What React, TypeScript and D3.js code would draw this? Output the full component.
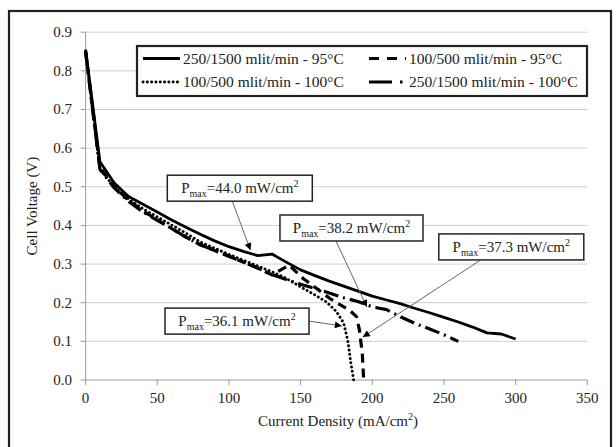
import React from "react";
import * as d3 from "d3";

const solidX = [0, 10, 20, 30, 40, 50, 60, 70, 80, 90, 100, 110, 120, 130, 140, 150, 160, 170, 180, 190, 200, 210, 220, 230, 240, 250, 260, 270, 280, 290, 300];
const solidV = [0.855, 0.565, 0.51, 0.475, 0.455, 0.435, 0.414, 0.395, 0.377, 0.36, 0.345, 0.333, 0.322, 0.326, 0.305, 0.285, 0.27, 0.256, 0.243, 0.23, 0.217, 0.207, 0.197, 0.185, 0.174, 0.162, 0.15, 0.137, 0.122, 0.119, 0.106];

const dashX = [0, 10, 20, 30, 40, 50, 60, 70, 80, 90, 100, 110, 120, 130, 142, 152, 160, 170, 176, 184, 189, 191, 193, 194];
const dashV = [0.85, 0.55, 0.5, 0.465, 0.437, 0.415, 0.392, 0.37, 0.35, 0.335, 0.32, 0.305, 0.29, 0.272, 0.297, 0.262, 0.24, 0.212, 0.198, 0.181, 0.164, 0.13, 0.07, 0.0];

const dotX = [0, 10, 20, 30, 40, 50, 60, 70, 80, 90, 100, 110, 120, 130, 140, 150, 160, 168, 175, 180, 183, 185, 187];
const dotV = [0.85, 0.545, 0.5, 0.468, 0.443, 0.422, 0.401, 0.38, 0.357, 0.341, 0.325, 0.31, 0.295, 0.28, 0.263, 0.241, 0.22, 0.202, 0.177, 0.148, 0.1, 0.045, 0.0];

const dashDotX = [0, 10, 20, 30, 40, 50, 60, 70, 80, 90, 100, 110, 120, 130, 140, 150, 160, 170, 180, 190, 200, 210, 220, 230, 240, 250, 260];
const dashDotV = [0.85, 0.545, 0.497, 0.462, 0.435, 0.413, 0.392, 0.37, 0.35, 0.335, 0.32, 0.305, 0.29, 0.273, 0.26, 0.248, 0.237, 0.225, 0.213, 0.203, 0.189, 0.182, 0.163, 0.146, 0.132, 0.117, 0.1];

const seriesNames = ["250/1500 mlit/min - 95°C", "100/500 mlit/min - 95°C", "100/500 mlit/min - 100°C", "250/1500 mlit/min - 100°C"];

const xTicks = [0, 50, 100, 150, 200, 250, 300, 350];
const yTicks = [0, 0.1, 0.2, 0.3, 0.4, 0.5, 0.6, 0.7, 0.8, 0.9];

const pmaxLabels = ["44.0", "38.2", "37.3", "36.1"];
const pmaxBoxX = [57, 135.6, 246.4, 55.4];
const pmaxBoxV = [0.53, 0.427, 0.378, 0.186];
const pmaxTipX = [115, 196.2, 193.4, 178.8];
const pmaxTipV = [0.336, 0.189, 0.111, 0.14];

const FONT = "'Liberation Serif', 'Times New Roman', serif";

export default function App() {
  const W = 616, H = 447;
  const x = d3.scaleLinear().domain([0, 350]).range([85.6, 587.3]);
  const y = d3.scaleLinear().domain([0, 0.9]).range([380, 32.2]);
  const line = d3.line<[number, number]>().x((d) => x(d[0])).y((d) => y(d[1]));
  const zip = (a: number[], b: number[]) => a.map((v, i) => [v, b[i]] as [number, number]);

  const series = [
    { d: zip(solidX, solidV), dash: undefined as string | undefined, w: 2.8, cap: "butt" },
    { d: zip(dashX, dashV), dash: "9,6", w: 3.2, cap: "butt" },
    { d: zip(dotX, dotV), dash: "0.1,4.2", w: 2.9, cap: "round" },
    { d: zip(dashDotX, dashDotV), dash: "15,5,2,5", w: 3.2, cap: "butt" },
  ];

  const boxW = [145, 143, 145, 144];
  const boxH = 26;
  const startSide = ["bottom", "bottom", "bottom", "right"];
  const startOff = [65, 56, 42, 0];

  return (
    <svg width={W} height={H} style={{ position: "absolute", left: 0, top: 0, background: "#fff" }} fontFamily={FONT}>
      <defs>
        <marker id="ah" viewBox="0 0 10 10" refX="10" refY="5" markerWidth="8" markerHeight="7" markerUnits="userSpaceOnUse" orient="auto">
          <path d="M0,0 L10,5 L0,10 z" fill="#000" />
        </marker>
      </defs>
      <rect x={0} y={0} width={W} height={H} fill="#fff" />
      <rect x={9} y={11} width={602} height={460} fill="none" stroke="#222" strokeWidth={2.2} />

      {yTicks.filter((t) => t > 0).map((t) => (
        <line key={"g" + t} x1={x(0)} x2={x(350)} y1={y(t)} y2={y(t)} stroke="#cfcfcf" strokeWidth={1} />
      ))}
      <line x1={x(0)} x2={x(0)} y1={y(0.9)} y2={y(0)} stroke="#999" strokeWidth={1} />
      <line x1={x(0)} x2={x(350)} y1={y(0)} y2={y(0)} stroke="#999" strokeWidth={1} />
      {yTicks.map((t) => (
        <g key={"yt" + t}>
          <line x1={x(0) - 5} x2={x(0)} y1={y(t)} y2={y(t)} stroke="#999" />
          <text x={72} y={y(t) + 5} textAnchor="end" fontSize={15} fill="#222">{t.toFixed(1)}</text>
        </g>
      ))}
      {xTicks.map((t) => (
        <g key={"xt" + t}>
          <line x1={x(t)} x2={x(t)} y1={y(0)} y2={y(0) + 5} stroke="#999" />
          <text x={x(t)} y={403} textAnchor="middle" fontSize={15} fill="#222">{t}</text>
        </g>
      ))}
      <text x={338} y={426} textAnchor="middle" fontSize={15} fill="#222">
        Current Density (mA/cm<tspan fontSize={10} dy={-6}>2</tspan><tspan dy={6}>)</tspan>
      </text>
      <text transform={`translate(37,${y(0.45)}) rotate(-90)`} textAnchor="middle" fontSize={15} fill="#222">Cell Voltage (V)</text>

      {series.map((s, i) => (
        <path key={"s" + i} d={line(s.d) || ""} fill="none" stroke="#000" strokeWidth={s.w} strokeDasharray={s.dash} strokeLinecap={s.cap as any} strokeLinejoin="round" />
      ))}

      <g>
        <rect x={137} y={46} width={450} height={50} fill="#fff" stroke="#222" strokeWidth={2.2} />
        {seriesNames.map((n, i) => {
          const col = i % 2 === 0 ? 0 : 1;
          const row = i < 2 ? 0 : 1;
          const lx = col === 0 ? 143 : 369;
          const ly = row === 0 ? 58.5 : 82;
          const s = series[i];
          return (
            <g key={"lg" + i}>
              <line x1={lx} x2={lx + 37} y1={ly} y2={ly} stroke="#000" strokeWidth={s.w} strokeDasharray={i === 1 ? "10,8" : i === 3 ? "23,8,2.5,8" : s.dash} strokeLinecap={s.cap as any} />
              <text x={col === 0 ? 183 : 409} y={ly + 5} fontSize={15.5} fill="#222">{n}</text>
            </g>
          );
        })}
      </g>

      {pmaxLabels.map((lab, i) => {
        const bx = x(pmaxBoxX[i]);
        const by = y(pmaxBoxV[i]);
        const bw = boxW[i];
        const sx = startSide[i] === "bottom" ? bx + startOff[i] : bx + bw;
        const sy = startSide[i] === "bottom" ? by + boxH : by + boxH / 2;
        return (
          <g key={"pm" + i}>
            <line x1={sx} y1={sy} x2={x(pmaxTipX[i])} y2={y(pmaxTipV[i])} stroke="#666" strokeWidth={1} markerEnd="url(#ah)" />
            <rect x={bx} y={by} width={bw} height={boxH} fill="#fff" stroke="#222" strokeWidth={1.5} />
            <text x={bx + bw / 2} y={by + 18} textAnchor="middle" fontSize={15} fill="#222">
              P<tspan fontSize={10} dy={4}>max</tspan><tspan dy={-4}>={lab} mW/cm</tspan><tspan fontSize={10} dy={-6}>2</tspan>
            </text>
          </g>
        );
      })}
    </svg>
  );
}
